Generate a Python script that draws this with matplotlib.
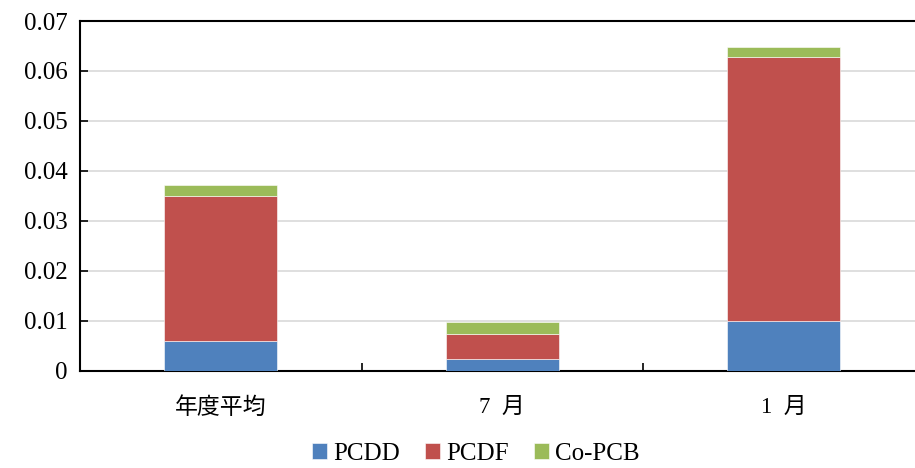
import numpy as np
import matplotlib
matplotlib.use('Agg')
import matplotlib.pyplot as plt

plt.rcParams['font.family'] = ['Liberation Serif', 'Noto Sans CJK JP']

# データ
categories = ['年度平均', '7  月', '1  月']
pcdd = [0.006, 0.0024, 0.010]
pcdf = [0.029, 0.0050, 0.0528]
copcb = [0.0022, 0.0024, 0.0020]

colors = ['#4F81BD', '#C0504D', '#9BBB59']
labels = ['PCDD', 'PCDF', 'Co-PCB']

fig = plt.figure(figsize=(9.15, 4.68), dpi=100)
ax = fig.add_axes([80/915, (468-370.5)/468, 835/915, (370.5-21)/468])

x = np.arange(len(categories))
w = 0.4
bottom = np.zeros(len(categories))
for vals, c, lab in zip([pcdd, pcdf, copcb], colors, labels):
    ax.bar(x, vals, w, bottom=bottom, color=c, label=lab,
           edgecolor='white', linewidth=0.4, zorder=3)
    bottom += np.array(vals)

ax.set_ylim(0, 0.07)
ax.set_xlim(-0.5, 2.5 - 9.5/281.5)
ax.set_yticks(np.arange(0, 0.0701, 0.01))
ax.set_yticklabels(['0', '0.01', '0.02', '0.03', '0.04', '0.05', '0.06', '0.07'])
ax.yaxis.grid(True, color='#d9d9d9', linewidth=1.2, zorder=0)
ax.set_axisbelow(True)

ax.set_xticks(x)
ax.set_xticklabels(categories, fontsize=16.5)
ax.set_xticks([0.5, 1.5], minor=True)
ax.tick_params(axis='x', which='major', length=0, pad=19)
ax.tick_params(axis='x', which='minor', length=6, direction='in', width=1.2)
ax.tick_params(axis='y', length=6, direction='in', width=1.2, labelsize=18, pad=9)

ax.spines['right'].set_visible(False)
ax.spines['left'].set_linewidth(1.5)
ax.spines['bottom'].set_linewidth(1.5)
ax.spines['top'].set_linewidth(1.5)

fig.legend(loc='lower center', ncol=3, frameon=False, fontsize=18,
           bbox_to_anchor=(0.52, -0.042), handlelength=0.6, handleheight=0.6,
           handletextpad=0.25, columnspacing=1.0)

fig.savefig('out.png', dpi=100)
